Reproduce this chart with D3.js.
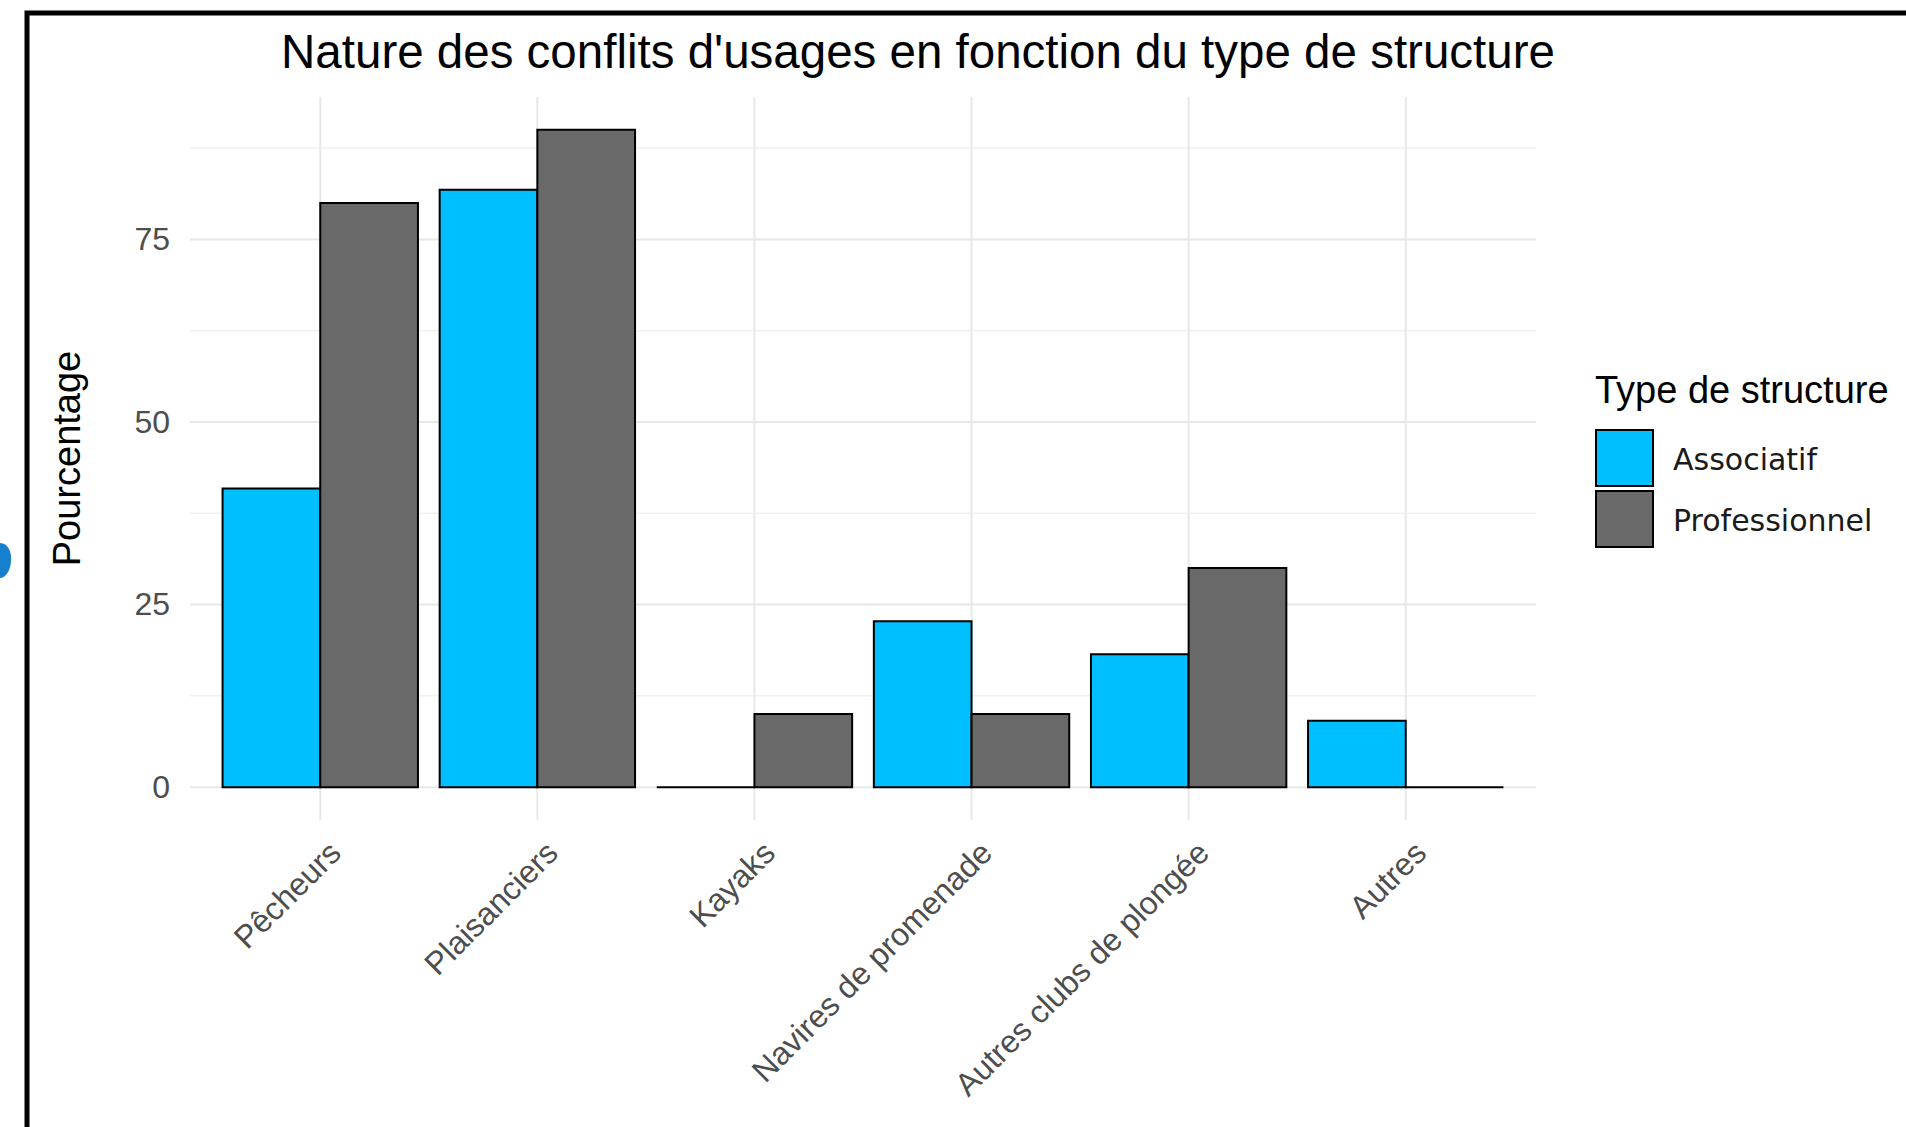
<!DOCTYPE html>
<html>
<head>
<meta charset="utf-8">
<script src="https://cdn.jsdelivr.net/npm/d3@7"></script>
<style>
  body { margin: 0; background: #fff; }
  svg { display: block; }
</style>
</head>
<body>
<svg id="chart"></svg>
<script>
'use strict';

//Chart values.
const categories = ['Pêcheurs', 'Plaisanciers', 'Kayaks', 'Navires de promenade', 'Autres clubs de plongée', 'Autres'];
const associatif = [40.9, 81.8, 0, 22.7, 18.2, 9.1];
const professionnel = [80, 90, 10, 10, 30, 0];
const seriesNames = ['Associatif', 'Professionnel'];
const seriesColors = ['#00bfff', '#696969'];
const yTicks = [0, 25, 50, 75];
const yMinorTicks = [12.5, 37.5, 62.5, 87.5];

const width = 1906;
const height = 1127;
//Panel edges in pixels.
const panel = {left: 190, right: 1536, top: 97, bottom: 820};

const svg = d3.select('#chart').attr('width', width).attr('height', height);

//Scales. y domain follows ggplot's 5% expansion around 0..90.
const xScale = d3.scalePoint().domain(categories).range([panel.left, panel.right]).padding(0.6);
const step = xScale.step();
const subScale = d3.scaleBand().domain(seriesNames).range([-0.45 * step, 0.45 * step]).padding(0);
const yScale = d3.scaleLinear().domain([-4.5, 94.5]).range([panel.bottom, panel.top]);
const colorScale = d3.scaleOrdinal().domain(seriesNames).range(seriesColors);

//Outer frame and the stray blue mark at the left edge.
svg.append('path')
	.attr('d', `M27,${height + 10} L27,13 L${width + 10},13`)
	.attr('fill', 'none')
	.attr('stroke', '#000')
	.attr('stroke-width', 5);
svg.append('path')
	.attr('d', 'M0,543 C8,543 12,552 11,562 C10,572 5,578 0,578 Z')
	.attr('fill', '#1680cc');

//Grid lines.
const grid = svg.append('g');
grid.selectAll('line.minor')
	.data(yMinorTicks)
	.enter()
	.append('line')
	.attr('class', 'minor')
	.attr('x1', panel.left).attr('x2', panel.right)
	.attr('y1', (d) => yScale(d)).attr('y2', (d) => yScale(d))
	.attr('stroke', '#f1f1f1')
	.attr('stroke-width', 1.5);
grid.selectAll('line.major')
	.data(yTicks)
	.enter()
	.append('line')
	.attr('class', 'major')
	.attr('x1', panel.left).attr('x2', panel.right)
	.attr('y1', (d) => yScale(d)).attr('y2', (d) => yScale(d))
	.attr('stroke', '#e8e8e8')
	.attr('stroke-width', 2);
grid.selectAll('line.vert')
	.data(categories)
	.enter()
	.append('line')
	.attr('class', 'vert')
	.attr('x1', (d) => xScale(d)).attr('x2', (d) => xScale(d))
	.attr('y1', panel.top).attr('y2', panel.bottom)
	.attr('stroke', '#e8e8e8')
	.attr('stroke-width', 2);

//Bars. Paths rather than rects so that zero-height bars still show their outline.
const rows = [];
categories.forEach((c, i) => {
	rows.push({cat: c, series: 'Associatif', value: associatif[i]});
	rows.push({cat: c, series: 'Professionnel', value: professionnel[i]});
});
svg.append('g')
	.selectAll('path')
	.data(rows)
	.enter()
	.append('path')
	.attr('d', (d) => {
		const x0 = xScale(d.cat) + subScale(d.series);
		const x1 = x0 + subScale.bandwidth();
		const y0 = yScale(0);
		const y1 = yScale(d.value);
		return `M${x0},${y0} L${x0},${y1} L${x1},${y1} L${x1},${y0} Z`;
	})
	.attr('fill', (d) => colorScale(d.series))
	.attr('stroke', '#000')
	.attr('stroke-width', 2)
	.attr('stroke-linejoin', 'miter');

//y axis: labels only (theme_minimal).
const yAxis = d3.axisLeft(yScale).tickValues(yTicks).tickSize(0).tickPadding(0);
const yAxisG = svg.append('g')
	.attr('transform', `translate(${panel.left - 20},0)`)
	.call(yAxis);
yAxisG.select('.domain').remove();
yAxisG.selectAll('text')
	.attr('font-family', '"Liberation Sans", Arial, sans-serif')
	.attr('font-size', 32)
	.attr('fill', '#4d4d4d');

//x axis: rotated labels.
const xAxis = d3.axisBottom(xScale).tickSize(0).tickPadding(0);
const xAxisG = svg.append('g')
	.attr('transform', `translate(0,${panel.bottom})`)
	.call(xAxis);
xAxisG.select('.domain').remove();
xAxisG.selectAll('text')
	.attr('font-family', '"Liberation Sans", Arial, sans-serif')
	.attr('font-size', 32)
	.attr('fill', '#4d4d4d')
	.style('text-anchor', 'end')
	.attr('y', 0)
	.attr('dy', 0)
	.attr('transform', 'translate(22,35) rotate(-45)');

//Titles.
svg.append('text')
	.attr('x', 918)
	.attr('y', 68)
	.attr('text-anchor', 'middle')
	.attr('font-family', '"Liberation Sans", Arial, sans-serif')
	.attr('font-size', 47.5)
	.attr('fill', '#000')
	.text("Nature des conflits d'usages en fonction du type de structure");

svg.append('text')
	.attr('transform', `translate(80,${(panel.top + panel.bottom) / 2}) rotate(-90)`)
	.attr('text-anchor', 'middle')
	.attr('font-family', '"Liberation Sans", Arial, sans-serif')
	.attr('font-size', 38)
	.attr('fill', '#000')
	.text('Pourcentage');

//Legend.
const legend = svg.append('g').attr('transform', 'translate(1595,0)');
legend.append('text')
	.attr('x', 0)
	.attr('y', 403)
	.attr('font-family', '"Liberation Sans", Arial, sans-serif')
	.attr('font-size', 38)
	.attr('fill', '#000')
	.text('Type de structure');
const keys = legend.selectAll('g.key')
	.data(seriesNames)
	.enter()
	.append('g')
	.attr('class', 'key')
	.attr('transform', (d, i) => `translate(0,${430 + i * 61})`);
keys.append('rect')
	.attr('x', 1).attr('y', 0)
	.attr('width', 57).attr('height', 56)
	.attr('fill', (d) => colorScale(d))
	.attr('stroke', '#000')
	.attr('stroke-width', 2);
keys.append('text')
	.attr('x', 78)
	.attr('y', 40)
	.attr('font-family', '"DejaVu Sans", sans-serif')
	.attr('font-size', 30)
	.attr('fill', '#1a1a1a')
	.text((d) => d);
</script>
</body>
</html>
